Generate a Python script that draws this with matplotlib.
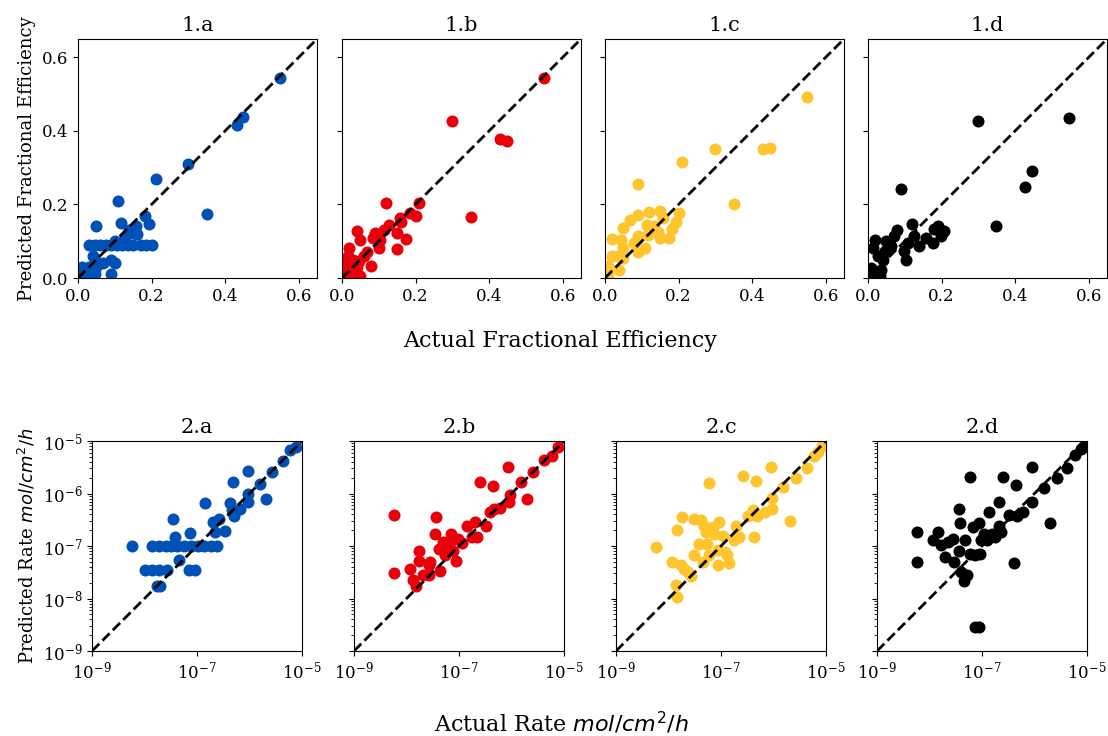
import matplotlib
matplotlib.use('Agg')
import matplotlib.pyplot as plt
from matplotlib.ticker import NullLocator
import numpy as np

plt.rcParams['font.family'] = 'DejaVu Serif'

# colours for the four models
colors = ['#0050b5', '#e8000b', '#ffc52e', '#000000']
top_titles = ['1.a', '1.b', '1.c', '1.d']
bottom_titles = ['2.a', '2.b', '2.c', '2.d']

# --- fractional efficiency (actual, predicted)
eff_a_x = [0.55, 0.448, 0.432, 0.30, 0.35, 0.211, 0.109, 0.05, 0.182, 0.194, 0.118, 0.159,
           0.15, 0.127, 0.03, 0.045, 0.06, 0.075, 0.09, 0.105, 0.12, 0.135, 0.15, 0.17,
           0.185, 0.2, 0.041, 0.045, 0.068, 0.09, 0.1, 0.089, 0.1, 0.11, 0.14, 0.16,
           0.005, 0.01, 0.02, 0.03, 0.04, 0.045, 0.05, 0.015, 0.035]
eff_a_y = [0.543, 0.439, 0.416, 0.309, 0.173, 0.27, 0.209, 0.141, 0.168, 0.147, 0.15, 0.141,
           0.123, 0.109, 0.091, 0.091, 0.091, 0.091, 0.091, 0.091, 0.091, 0.091, 0.091, 0.091,
           0.091, 0.091, 0.059, 0.045, 0.041, 0.05, 0.041, 0.012, 0.1, 0.095, 0.13, 0.12,
           0.01, 0.03, 0.02, 0.03, 0.02, 0.01, 0.03, 0.005, 0.005]

eff_b_x = [0.55, 0.30, 0.43, 0.45, 0.35, 0.21, 0.12, 0.2, 0.186, 0.158, 0.16, 0.128,
           0.113, 0.09, 0.149, 0.084, 0.041, 0.05, 0.104, 0.1, 0.175, 0.149, 0.068, 0.02,
           0.079, 0.05, 0.005, 0.01, 0.02, 0.03, 0.04, 0.015, 0.025, 0.035, 0.045, 0.06]
eff_b_y = [0.543, 0.427, 0.377, 0.373, 0.165, 0.205, 0.204, 0.169, 0.178, 0.163, 0.152, 0.145,
           0.131, 0.122, 0.122, 0.109, 0.127, 0.104, 0.104, 0.081, 0.106, 0.08, 0.072, 0.081,
           0.032, 0.005, 0.01, 0.04, 0.02, 0.05, 0.03, 0.06, 0.005, 0.015, 0.045, 0.06]

eff_c_x = [0.55, 0.30, 0.431, 0.449, 0.21, 0.089, 0.351, 0.2, 0.192, 0.15, 0.12, 0.089,
           0.068, 0.05, 0.113, 0.132, 0.159, 0.091, 0.145, 0.181, 0.174, 0.15, 0.118, 0.018,
           0.044, 0.05, 0.08, 0.109, 0.089, 0.018, 0.035, 0.05, 0.009, 0.038, 0.009]
eff_c_y = [0.491, 0.35, 0.352, 0.353, 0.316, 0.255, 0.2, 0.177, 0.152, 0.182, 0.179, 0.17,
           0.157, 0.136, 0.143, 0.141, 0.164, 0.114, 0.125, 0.132, 0.109, 0.109, 0.118, 0.106,
           0.104, 0.082, 0.095, 0.082, 0.07, 0.059, 0.059, 0.055, 0.032, 0.021, 0.009]

eff_d_x = [0.548, 0.30, 0.447, 0.428, 0.349, 0.09, 0.119, 0.079, 0.19, 0.207, 0.198, 0.18,
           0.176, 0.158, 0.14, 0.126, 0.108, 0.099, 0.104, 0.072, 0.063, 0.05, 0.045, 0.02,
           0.014, 0.027, 0.041, 0.009, 0.036, 0.005, 0.032]
eff_d_y = [0.436, 0.427, 0.291, 0.247, 0.141, 0.243, 0.148, 0.13, 0.141, 0.127, 0.114, 0.132,
           0.095, 0.109, 0.086, 0.114, 0.095, 0.073, 0.05, 0.114, 0.086, 0.1, 0.073, 0.103,
           0.082, 0.059, 0.05, 0.027, 0.023, 0.005, 0.005]

# --- rates, stored as log10 of mol/cm2/h
rate_a_x = [-8.23, -7.86, -7.73, -7.60, -7.50, -7.38, -7.25, -7.12, -6.99, -6.86, -6.74, -6.62,
            -7.99, -7.86, -7.73, -7.57, -7.16, -7.04, -7.77, -7.70, -7.35, -7.42, -7.45, -7.14,
            -6.85, -6.69, -6.59, -6.65, -6.46, -6.37, -6.34, -6.30, -6.18, -6.32, -6.03, -6.02,
            -6.03, -5.80, -5.68, -5.58, -5.37, -5.22, -5.11]
rate_a_y = [-7.0, -7.0, -7.0, -7.0, -7.0, -7.0, -7.0, -7.0, -7.0, -7.0, -7.0, -7.0,
            -7.46, -7.46, -7.46, -7.46, -7.46, -7.46, -7.77, -7.77, -7.26, -6.83, -6.48, -6.75,
            -6.19, -6.54, -6.48, -6.73, -6.72, -6.19, -6.32, -6.42, -6.29, -5.78, -5.57, -6.0,
            -6.16, -5.81, -6.11, -5.59, -5.38, -5.18, -5.11]

rate_b_x = [-8.24, -8.24, -7.93, -7.87, -7.81, -7.76, -7.76, -7.68, -7.58, -7.55, -7.57, -7.46,
            -7.43, -7.39, -7.36, -7.30, -7.27, -7.23, -7.16, -7.14, -7.11, -7.06, -7.01, -6.95,
            -6.85, -6.76, -6.70, -6.66, -6.49, -6.41, -6.33, -6.22, -6.60, -6.35, -6.06, -6.04,
            -6.02, -5.81, -5.70, -5.60, -5.38, -5.23, -5.12]
rate_b_y = [-6.40, -7.52, -7.44, -7.64, -7.77, -7.09, -7.28, -7.56, -7.37, -7.31, -7.56, -6.77,
            -6.45, -7.05, -7.47, -6.92, -7.18, -6.99, -6.77, -6.89, -7.09, -7.28, -6.86, -6.94,
            -6.62, -6.83, -6.54, -6.83, -6.62, -6.35, -6.29, -6.28, -5.79, -5.86, -5.50, -6.16,
            -6.02, -5.79, -6.11, -5.59, -5.36, -5.29, -5.12]

rate_c_x = [-8.24, -7.93, -7.83, -7.75, -7.77, -7.70, -7.62, -7.57, -7.86, -7.83, -7.52, -7.52,
            -7.41, -7.38, -7.35, -7.32, -7.29, -7.27, -7.22, -7.22, -7.16, -7.13, -7.06, -7.05,
            -7.03, -6.97, -6.92, -6.89, -6.84, -6.75, -6.71, -6.65, -6.59, -6.49, -6.40, -6.38,
            -6.33, -6.31, -6.17, -6.05, -6.03, -6.02, -5.81, -5.69, -5.57, -5.36, -5.22, -5.15,
            -5.08]
rate_c_y = [-7.02, -7.31, -6.70, -6.45, -7.37, -7.44, -7.50, -7.58, -7.74, -7.98, -7.17, -6.48,
            -6.96, -6.51, -7.31, -6.61, -6.73, -6.96, -7.18, -5.80, -6.64, -6.77, -7.07, -7.37,
            -6.54, -6.80, -7.12, -7.18, -7.32, -6.89, -6.61, -6.83, -5.67, -6.42, -6.32, -6.83,
            -5.76, -6.42, -6.35, -5.49, -6.29, -6.08, -5.87, -6.53, -5.71, -5.51, -5.29, -5.2,
            -5.1]

rate_d_x = [-8.23, -8.23, -7.93, -7.84, -7.79, -7.70, -7.65, -7.55, -7.54, -7.44, -7.43, -7.41,
            -7.40, -7.35, -7.32, -7.29, -7.23, -7.22, -7.17, -7.13, -7.13, -7.06, -7.06, -7.04,
            -7.02, -6.97, -6.90, -6.87, -6.81, -6.75, -6.68, -6.68, -6.64, -6.60, -6.49, -6.40,
            -6.35, -6.33, -6.21, -6.05, -6.05, -5.81, -5.70, -5.58, -5.38, -5.22, -5.12, -5.08]
rate_d_y = [-6.73, -7.30, -6.89, -6.73, -6.99, -7.21, -6.93, -6.86, -7.31, -7.09, -6.29, -6.57,
            -7.50, -7.66, -6.89, -7.56, -5.68, -7.15, -6.64, -7.18, -8.55, -8.55, -6.57, -7.15,
            -6.89, -6.77, -6.89, -6.35, -6.77, -6.83, -6.61, -6.17, -6.73, -5.68, -6.40, -7.32,
            -5.84, -6.42, -6.36, -5.49, -6.16, -5.90, -6.56, -5.70, -5.51, -5.27, -5.15, -5.12]

eff_x = [eff_a_x, eff_b_x, eff_c_x, eff_d_x]
eff_y = [eff_a_y, eff_b_y, eff_c_y, eff_d_y]
rate_x = [rate_a_x, rate_b_x, rate_c_x, rate_d_x]
rate_y = [rate_a_y, rate_b_y, rate_c_y, rate_d_y]

W, H = 1108, 736
fig = plt.figure(figsize=(W / 100, H / 100), dpi=100)


def px_axes(left, top, right, bottom):
    return fig.add_axes([left / W, 1 - bottom / H, (right - left) / W, (bottom - top) / H])


top_lefts = [78, 342, 605, 868]
bottom_lefts = [92, 354, 616, 877]

for i in range(4):
    ax = px_axes(top_lefts[i], 39, top_lefts[i] + 239, 278)
    ax.scatter(eff_x[i], eff_y[i], s=75, color=colors[i], linewidths=0, zorder=2)
    ax.plot([0, 0.65], [0, 0.65], 'k--', lw=2, zorder=3)
    ax.set_xlim(0, 0.65)
    ax.set_ylim(0, 0.65)
    ax.set_xticks([0.0, 0.2, 0.4, 0.6])
    ax.set_yticks([0.0, 0.2, 0.4, 0.6])
    ax.set_title(top_titles[i], fontsize=15)
    ax.tick_params(labelsize=12)
    if i == 0:
        ax.set_ylabel('Predicted Fractional Efficiency', fontsize=13)
    else:
        ax.set_yticklabels([])

for i in range(4):
    ax = px_axes(bottom_lefts[i], 441, bottom_lefts[i] + 210, 651)
    ax.scatter(10.0 ** np.array(rate_x[i]), 10.0 ** np.array(rate_y[i]), s=75,
               color=colors[i], linewidths=0, zorder=2)
    ax.plot([1e-9, 1e-5], [1e-9, 1e-5], 'k--', lw=2, zorder=3)
    ax.set_xscale('log')
    ax.set_yscale('log')
    ax.set_xlim(1e-9, 1e-5)
    ax.set_ylim(1e-9, 1e-5)
    ax.set_xticks([1e-9, 1e-7, 1e-5])
    ax.xaxis.set_minor_locator(NullLocator())
    ax.set_title(bottom_titles[i], fontsize=15)
    ax.tick_params(labelsize=12)
    if i == 0:
        ax.set_ylabel('Predicted Rate $mol/cm^2/h$', fontsize=13)
    else:
        ax.set_yticklabels([], minor=False)
        ax.set_yticklabels([], minor=True)

fig.text(560 / W, 1 - 341 / H, 'Actual Fractional Efficiency', ha='center', va='center', fontsize=16)
fig.text(562 / W, 1 - 724 / H, 'Actual Rate $mol/cm^2/h$', ha='center', va='center', fontsize=16)

fig.savefig('out.png', dpi=100)
